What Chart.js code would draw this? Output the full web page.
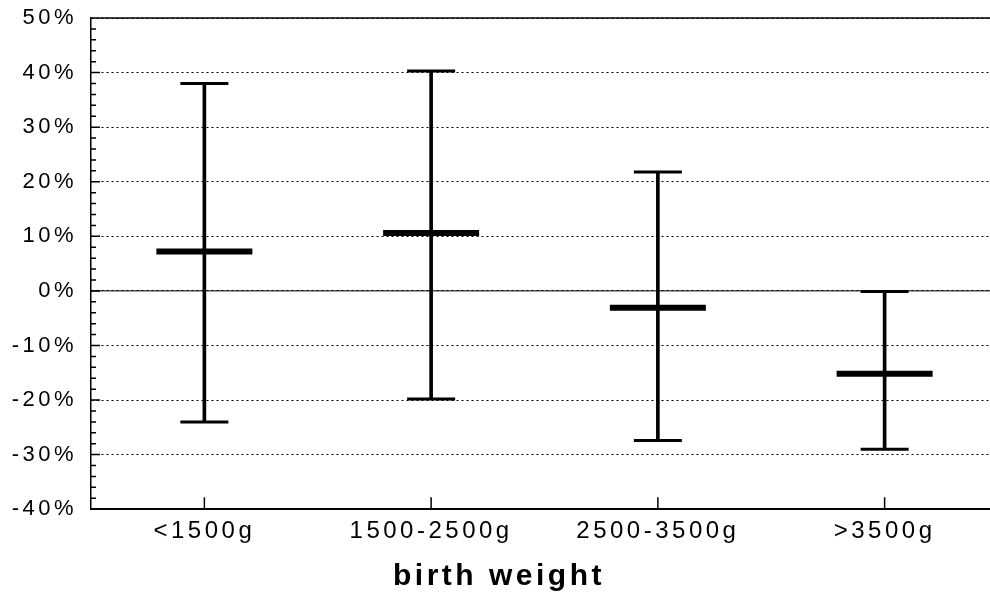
<!DOCTYPE html>
<html>
<head>
<meta charset="utf-8">
<script src="https://cdn.jsdelivr.net/npm/chart.js@4.4.1/dist/chart.umd.min.js"></script>
<style>
  html, body { margin: 0; padding: 0; background: #fff; overflow: hidden; }
  #wrap { width: 998px; height: 601px; }
</style>
</head>
<body>
<div id="wrap"><canvas id="c" width="998" height="601"></canvas></div>
<script>
// birth weight groups and their estimate with lower/upper limits (percent)
const groups = ['<1500g', '1500-2500g', '2500-3500g', '>3500g'];
const means = [7.2, 10.6, -3.1, -15.2];
const lows = [-24.0, -19.8, -27.4, -29.0];
const highs = [38.0, 40.3, 21.8, -0.1];
const yTicks = [-40, -30, -20, -10, 0, 10, 20, 30, 40, 50];

const ranges = lows.map((l, i) => [l, highs[i]]);

// the old typewriter-style labels are widely spaced
const spacing = {
  id: 'spacing',
  beforeUpdate(chart) { chart.ctx.letterSpacing = '3.5px'; },
  beforeDraw(chart) { chart.ctx.letterSpacing = '3.5px'; }
};

// solid frame lines, zero line and inward tick marks
const axisMarks = {
  id: 'axisMarks',
  afterDraw(chart) {
    const { ctx, chartArea: a, scales: { x, y } } = chart;
    ctx.save();
    ctx.strokeStyle = '#000';
    ctx.lineWidth = 1.5;
    ctx.beginPath();
    ctx.moveTo(a.left, a.top); ctx.lineTo(a.right, a.top);
    for (let v = -40; v <= 50; v += 2) {
      const py = y.getPixelForValue(v);
      const len = v % 10 === 0 ? 9 : 5;
      ctx.moveTo(a.left, py); ctx.lineTo(a.left + len, py);
    }
    groups.forEach((g, i) => {
      const px = x.getPixelForValue(i);
      ctx.moveTo(px, a.bottom); ctx.lineTo(px, a.bottom - 12);
    });
    ctx.stroke();
    ctx.lineWidth = 1;
    ctx.beginPath();
    const z = y.getPixelForValue(0);
    ctx.moveTo(a.left, z); ctx.lineTo(a.right, z);
    ctx.stroke();
    ctx.restore();
  }
};

new Chart(document.getElementById('c'), {
  type: 'bar',
  data: {
    labels: groups,
    datasets: [
      {
        label: 'range',
        data: ranges,
        backgroundColor: '#000',
        barThickness: 3,
        order: 3
      },
      {
        type: 'line',
        label: 'upper',
        data: highs,
        showLine: false,
        pointStyle: 'line',
        pointRadius: 24,
        pointBorderWidth: 3,
        borderColor: '#000',
        order: 2
      },
      {
        type: 'line',
        label: 'lower',
        data: lows,
        showLine: false,
        pointStyle: 'line',
        pointRadius: 24,
        pointBorderWidth: 3,
        borderColor: '#000',
        order: 2
      },
      {
        type: 'line',
        label: 'estimate',
        data: means,
        showLine: false,
        pointStyle: 'line',
        pointRadius: 48,
        pointBorderWidth: 6,
        borderColor: '#000',
        order: 1
      }
    ]
  },
  options: {
    responsive: false,
    animation: false,
    layout: { autoPadding: false, padding: { top: 18, right: 0, bottom: 0, left: 0 } },
    plugins: {
      legend: { display: false },
      tooltip: { enabled: false },
      title: {
        display: true,
        position: 'bottom',
        text: 'birth weight',
        color: '#000',
        padding: { top: 5, bottom: 6 },
        font: { family: 'Liberation Sans, Arial', size: 30, weight: 'bold' }
      }
    },
    scales: {
      x: {
        afterFit(s) { s.paddingLeft = 0; s.paddingRight = 0; },
        grid: { display: false, drawTicks: false },
        border: { color: '#000', width: 2 },
        ticks: {
          color: '#000',
          padding: 8,
          font: { family: 'Liberation Sans, Arial', size: 24 }
        }
      },
      y: {
        min: -40,
        max: 50,
        afterFit(s) { s.width = 91; s.paddingTop = 0; s.paddingBottom = 0; },
        afterBuildTicks(s) { s.ticks = yTicks.map(v => ({ value: v })); },
        grid: { color: '#000', lineWidth: 1, drawTicks: false },
        border: { color: '#000', width: 1.5, dash: [2, 3] },
        ticks: {
          color: '#000',
          padding: 14,
          font: { family: 'Liberation Sans, Arial', size: 22 },
          callback: v => v + '%'
        }
      }
    }
  },
  plugins: [spacing, axisMarks]
});
</script>
</body>
</html>
